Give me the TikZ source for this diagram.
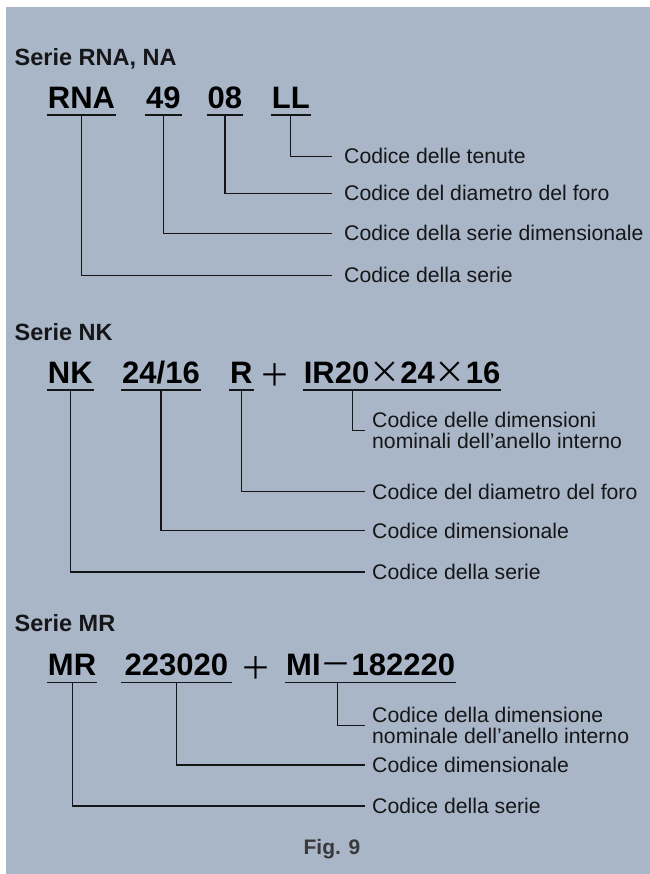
\documentclass[tikz,border=0pt]{standalone}
\usepackage{fontspec}
\setmainfont{Liberation Sans}
\newfontfamily\cjk{Noto Sans CJK JP}
\definecolor{bgcol}{RGB}{168,182,199}
\definecolor{ink}{RGB}{22,22,24}
\tikzset{
  ttl/.style={anchor=base west, inner sep=0, text=ink, font=\bfseries\fontsize{23.5bp}{24bp}\selectfont},
  code/.style={anchor=base west, inner ysep=0, inner xsep=1bp, text=black, font=\bfseries\fontsize{31bp}{31bp}\selectfont},
  sym/.style={anchor=base, inner sep=0, text=black, font=\cjk\fontsize{31bp}{31bp}\selectfont},
  lab/.style={anchor=base west, inner sep=0, text=ink, font=\fontsize{21.2bp}{21bp}\selectfont},
  labtwo/.style={anchor=north west, inner sep=0, align=left, text=ink, font=\fontsize{21.2bp}{21bp}\selectfont},
  conn/.style={draw=ink, line width=1.2bp},
  figlab/.style={anchor=base, inner sep=0, text=ink!85, font=\bfseries\fontsize{21bp}{21bp}\selectfont},
}
\newcommand{\uline}[1]{\draw[conn] ([yshift=-7bp]#1.base west) -- ([yshift=-7bp]#1.base east);}
\begin{document}
\begin{tikzpicture}[x=1bp,y=-1bp]
\useasboundingbox (0,0) rectangle (650,874);
\fill[bgcol] (6,7) rectangle (650,874);

% ---------- Serie RNA, NA ----------
\node[ttl] (t1) at (14.5,65) {Serie RNA, NA};
\node[code] (rna) at (46.7,108) {RNA};
\node[code] (c49) at (145,108) {49};
\node[code] (c08) at (206.5,108) {08};
\node[code] (cll) at (270.7,108) {LL};
\uline{rna}\uline{c49}\uline{c08}\uline{cll}
\node[lab] (l1) at (344,163.8) {Codice delle tenute};
\node[lab] (l2) at (344,200.8) {Codice del diametro del foro};
\node[lab] (l3) at (344,240.8) {Codice della serie dimensionale};
\node[lab] (l4) at (344,282.8) {Codice della serie};
\draw[conn] ([yshift=-7bp]cll.base) |- ([xshift=-12.3bp]l1.west);
\draw[conn] ([yshift=-7bp]c08.base) |- ([xshift=-12.3bp]l2.west);
\draw[conn] ([yshift=-7bp]c49.base) |- ([xshift=-12.3bp]l3.west);
\draw[conn] ([yshift=-7bp]rna.base) |- ([xshift=-12.3bp]l4.west);

% ---------- Serie NK ----------
\node[ttl] (t2) at (14.5,340) {Serie NK};
\node[code] (nk) at (46.8,383) {NK};
\node[code] (c2416) at (121,383) {24/16};
\node[code] (cr) at (229,383) {R};
\node[sym] (p1) at (274.5,386.5) {＋};
\node[code] (ir) at (302.6,383) {IR20{\cjk\mdseries ×}24{\cjk\mdseries ×}16};
\uline{nk}\uline{c2416}\uline{cr}\uline{ir}
\node[labtwo] (l5) at (372,412.3) {Codice delle dimensioni\\nominali dell’anello interno};
\node[lab] (l6) at (372,499) {Codice del diametro del foro};
\node[lab] (l7) at (372,538) {Codice dimensionale};
\node[lab] (l8) at (372,579.5) {Codice della serie};
\draw[conn] ([xshift=49.5bp,yshift=-7bp]ir.base west) |- ([xshift=-7.5bp]l5.west);
\draw[conn] ([yshift=-7bp]cr.base) |- ([xshift=-7.5bp]l6.west);
\draw[conn] ([yshift=-7bp]c2416.base) |- ([xshift=-7.5bp]l7.west);
\draw[conn] ([yshift=-7bp]nk.base) |- ([xshift=-7.5bp]l8.west);

% ---------- Serie MR ----------
\node[ttl] (t3) at (14.5,631.7) {Serie MR};
\node[code] (mr) at (46.8,675.7) {MR};
\node[code, inner xsep=3.5bp] (c223) at (121,675.7) {223020};
\node[sym] (p2) at (256,679) {＋};
\node[code] (mi) at (285,675.7) {MI{\cjk\mdseries －}182220};
\uline{mr}\uline{c223}\uline{mi}
\node[labtwo] (l9) at (372,706.8) {Codice della dimensione\\nominale dell’anello interno};
\node[lab] (l10) at (372,772.5) {Codice dimensionale};
\node[lab] (l11) at (372,813.5) {Codice della serie};
\draw[conn] ([xshift=52.7bp,yshift=-7bp]mi.base west) |- ([xshift=-7.5bp]l9.west);
\draw[conn] ([yshift=-7bp]c223.base) |- ([xshift=-7.5bp]l10.west);
\draw[conn] ([yshift=-7bp]mr.base) |- ([xshift=-7.5bp]l11.west);

\node[figlab] (fig) at (332,854) {Fig. 9};
\end{tikzpicture}
\end{document}
